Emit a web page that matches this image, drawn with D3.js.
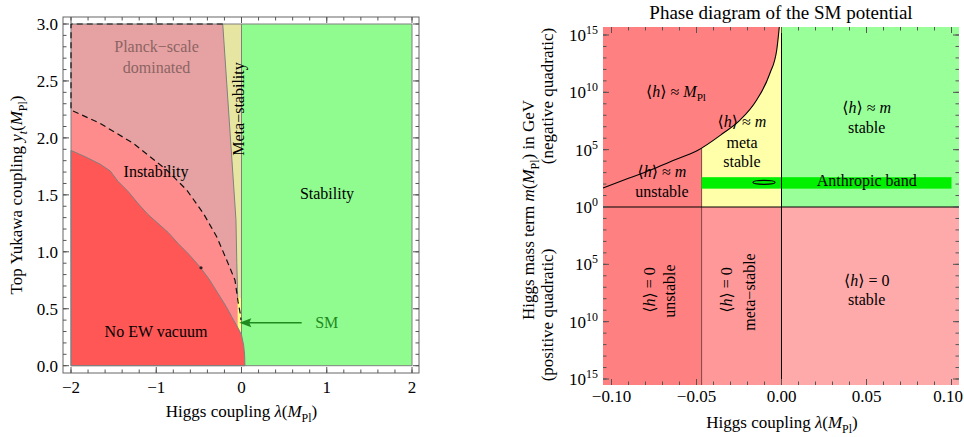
<!DOCTYPE html>
<html>
<head>
<meta charset="utf-8">
<script src="https://cdn.jsdelivr.net/npm/d3@7"></script>
<style>
  body { margin: 0; background: #fff; }
  svg text { font-family: "Liberation Serif", "DejaVu Serif", serif; }
</style>
</head>
<body>
<svg id="chart" width="964" height="437"></svg>
<script>
// ================= Left panel: (lambda, y_t) plane =================
// Lower edge of the "No EW vacuum" region
const noEwLam = [-2.00, -1.82, -1.66, -1.54, -1.45, -1.33, -1.22, -1.10, -0.98, -0.86, -0.74, -0.62, -0.49, -0.38, -0.28, -0.18, -0.10, -0.04, 0.00, 0.025, 0.037, 0.04];
const noEwYt  = [ 1.89,  1.83,  1.77,  1.71,  1.62,  1.53,  1.43,  1.33,  1.25,  1.17,  1.07,  0.98,  0.87,  0.76,  0.64,  0.52,  0.41,  0.33, 0.27, 0.18, 0.09, 0.00];
// Dashed edge of the Planck-scale dominated region
const planckLam = [-2.00, -1.66, -1.27, -0.877, -0.643, -0.448, -0.291, -0.174, -0.076, -0.04, -0.015, -0.006];
const planckYt  = [ 2.245, 2.128, 1.953, 1.718, 1.543, 1.338, 1.133, 0.928, 0.75, 0.56, 0.46, 0.40];
// Left edge of the meta-stability strip
const metaEdgeLam = [-0.22, -0.065, -0.055, -0.045];
const metaEdgeYt  = [ 3.00,  1.28,   0.90,   0.60];
// Lower end of the bright yellow sliver
const sliverYt = 0.2;
// SM point and its arrow
const smLam = -0.026, smYt = 0.377, smArrowFrom = 0.706, smLabelLam = 1.0;
const smDot = [-0.475, 0.86];
const leftXTicks = [-2, -1, 0, 1, 2];
const leftXTickLabels = ["\u22122", "\u22121", "0", "1", "2"];
const leftYTicks = [0, 0.5, 1, 1.5, 2, 2.5, 3];
const leftYTickLabels = ["0.0", "0.5", "1.0", "1.5", "2.0", "2.5", "3.0"];

// ================= Right panel: (lambda, m) plane =================
// Boundary between <h> ~ M_Pl and <h> ~ m, log10(m/GeV)
const curveLam = [-0.105, -0.09, -0.077, -0.063, -0.05, -0.0344, -0.0244, -0.0146, -0.0068, -0.0028, -0.0013];
const curveLog = [ 1.66,   2.5,   3.23,   4.1,    4.88,  6.43,    7.58,    9.33,    11.66,   13.69,   15.7];
const metaSplit = -0.047;
const bandLam = [-0.047, 0.1];
const bandLog = [1.6, 2.6];
const smEllipse = { lam: -0.0103, log: 2.15, dLam: 0.0065, dLog: 0.18 };
const rightXTicks = [-0.10, -0.05, 0.00, 0.05, 0.10];
const rightXTickLabels = ["\u22120.10", "\u22120.05", "0.00", "0.05", "0.10"];
const rightYTicks = [15, 10, 5, 0, -5, -10, -15];
const rightYTickExp = ["15", "10", "5", "0", "5", "10", "15"];

const C = {
  planck: "#e6a2a2", instab: "#ff8c8c", noEw: "#ff5656", khaki: "#e6e6a2",
  yellow: "#ffff80", greenL: "#90fc90",
  upRed: "#ff8080", upYellow: "#ffffaa", upGreen: "#99ff99",
  lowUnst: "#ff8080", lowMeta: "#ff9999", lowStable: "#ffaaaa",
  band: "#00f000", edge: "#808080", tick: "#555"
};
const FS = 16;      // region names
const FT = 17;      // ticks and axis titles
const W = 964;

const svg = d3.select("#chart");

// text helper with italics, sub- and superscripts
function rich(text, parts, size) {
  let off = 0;
  parts.forEach(p => {
    const ts = text.append("tspan").text(p.t);
    const target = p.sub ? size * 0.28 : p.sup ? -size * 0.42 : 0;
    if (target !== off) { ts.attr("dy", target - off); off = target; }
    if (p.sub || p.sup) ts.attr("font-size", size * 0.7);
    if (p.i) ts.attr("font-style", "italic");
  });
  return text;
}
function label(g, x, y, parts, opts = {}) {
  const size = opts.size || FS;
  const t = g.append("text")
    .attr("transform", `translate(${x},${y})` + (opts.rot ? " rotate(-90)" : ""))
    .attr("text-anchor", opts.anchor || "middle")
    .attr("font-size", size)
    .attr("fill", opts.fill || "#000");
  return rich(t, parts, size);
}
const H = [{ t: "\u27e8" }, { t: "h", i: 1 }, { t: "\u27e9" }];
const lamMPl = [{ t: "\u03bb", i: 1 }, { t: "(" }, { t: "M", i: 1 }, { t: "Pl", sub: 1 }, { t: ")" }];

// ---------------- left panel ----------------
const xL = d3.scaleLinear().domain([-2, 2]).range([71, 412]);
const yL = d3.scaleLinear().domain([0, 3]).range([365.7, 24]);
const frameL = { x0: 63, x1: 419, y0: 17, y1: 373 };
const gL = svg.append("g");
const lineL = d3.line().x(d => xL(d[0])).y(d => yL(d[1]));
const zip = (a, b) => a.map((v, i) => [v, b[i]]);

const noEw = zip(noEwLam, noEwYt);
const planck = zip(planckLam, planckYt);
const metaEdge = zip(metaEdgeLam, metaEdgeYt);

function rectL(l0, l1, y0, y1, fill) {
  gL.append("rect").attr("x", xL(l0)).attr("y", yL(y1))
    .attr("width", xL(l1) - xL(l0)).attr("height", yL(y0) - yL(y1)).attr("fill", fill);
}
rectL(-2, 0, 0, 3, C.instab);
// Planck-scale dominated
gL.append("path")
  .attr("d", lineL([[-2, 3], ...metaEdge, ...planck.slice().reverse()]) + "Z")
  .attr("fill", C.planck);
// meta-stability strip
gL.append("path")
  .attr("d", lineL([...metaEdge, [0, metaEdgeYt[metaEdgeYt.length - 1]], [0, 3]]) + "Z")
  .attr("fill", C.khaki);
rectL(metaEdgeLam[metaEdgeLam.length - 1], 0, sliverYt, metaEdgeYt[metaEdgeYt.length - 1], C.yellow);
rectL(0, 2, 0, 3, C.greenL);
// No EW vacuum
gL.append("path")
  .attr("d", lineL([[-2, 0], ...noEw]) + "Z")
  .attr("fill", C.noEw).attr("stroke", C.edge).attr("stroke-width", 1);
// region edges
gL.append("path").attr("d", lineL(metaEdge)).attr("fill", "none").attr("stroke", C.edge);
gL.append("path").attr("d", lineL([[0, 0.27], [0, 3]])).attr("fill", "none").attr("stroke", C.edge);
gL.append("rect").attr("x", xL(-2)).attr("y", yL(3)).attr("width", xL(2) - xL(-2))
  .attr("height", yL(0) - yL(3)).attr("fill", "none").attr("stroke", C.edge);
// dashed Planck boundary
gL.append("path")
  .attr("d", lineL([[metaEdgeLam[0], 3], [-2, 3], ...planck]))
  .attr("fill", "none").attr("stroke", "#111").attr("stroke-width", 1.2)
  .attr("stroke-dasharray", "6,4");
gL.append("circle").attr("cx", xL(smDot[0])).attr("cy", yL(smDot[1])).attr("r", 1.6).attr("fill", "#222");

// SM arrow
const smCol = "#1f8a1f";
gL.append("line").attr("x1", xL(smArrowFrom)).attr("x2", xL(smLam) + 8)
  .attr("y1", yL(smYt)).attr("y2", yL(smYt)).attr("stroke", smCol).attr("stroke-width", 1.4);
gL.append("path")
  .attr("d", `M${xL(smLam)},${yL(smYt)} l12,-4.5 l-2,4.5 l2,4.5 Z`).attr("fill", smCol);
label(gL, xL(smLabelLam), yL(smYt) + 5, [{ t: "SM" }], { fill: smCol });

// frame and ticks
gL.append("rect").attr("x", frameL.x0).attr("y", frameL.y0)
  .attr("width", frameL.x1 - frameL.x0).attr("height", frameL.y1 - frameL.y0)
  .attr("fill", "none").attr("stroke", "#666");
function ticksX(g, xs, x, yTop, yBot, len) {
  xs.forEach(v => {
    g.append("line").attr("x1", x(v)).attr("x2", x(v)).attr("y1", yBot).attr("y2", yBot - len).attr("stroke", C.tick);
    g.append("line").attr("x1", x(v)).attr("x2", x(v)).attr("y1", yTop).attr("y2", yTop + len).attr("stroke", C.tick);
  });
}
function ticksY(g, ys, y, xLeft, xRight, len) {
  ys.forEach(v => {
    g.append("line").attr("y1", y(v)).attr("y2", y(v)).attr("x1", xLeft).attr("x2", xLeft + len).attr("stroke", C.tick);
    g.append("line").attr("y1", y(v)).attr("y2", y(v)).attr("x1", xRight).attr("x2", xRight - len).attr("stroke", C.tick);
  });
}
ticksX(gL, d3.range(-2, 2.001, 0.2), xL, frameL.y0, frameL.y1, 3.5);
ticksX(gL, leftXTicks, xL, frameL.y0, frameL.y1, 6);
ticksY(gL, d3.range(0, 3.001, 0.1), yL, frameL.x0, frameL.x1, 3.5);
ticksY(gL, leftYTicks, yL, frameL.x0, frameL.x1, 6);
leftXTicks.forEach((v, i) => label(gL, xL(v), 393, [{ t: leftXTickLabels[i] }], { size: FT }));
leftYTicks.forEach((v, i) => label(gL, 58, yL(v) + 6, [{ t: leftYTickLabels[i] }], { anchor: "end", size: FT }));

// axis titles
label(gL, 241.5, 417, [{ t: "Higgs coupling " }, ...lamMPl], { size: FT });
label(gL, 22, 195, [{ t: "Top Yukawa coupling " }, { t: "y", i: 1 }, { t: "t", i: 1, sub: 1 }, { t: "(" }, { t: "M", i: 1 }, { t: "Pl", sub: 1 }, { t: ")" }], { rot: 1, size: FT });

// region names
label(gL, 156.5, 52, [{ t: "Planck\u2212scale" }], { fill: "#8c6464" });
label(gL, 156.5, 73, [{ t: "dominated" }], { fill: "#8c6464" });
label(gL, 156, 177, [{ t: "Instability" }]);
label(gL, 244, 109, [{ t: "Meta\u2212stability" }], { rot: 1 });
label(gL, 327, 199, [{ t: "Stability" }]);
label(gL, 156, 336.5, [{ t: "No EW vacuum" }]);

// ---------------- right panel ----------------
const xR = d3.scaleLinear().domain([-0.1, 0.1]).range([611.5, 951.5]);
const yR = d3.scaleLinear().domain([-15, 15]).range([379, 35]);
const frameR = { x0: 603, x1: 959, y0: 27, y1: 385 };
const lamMin = xR.invert(frameR.x0), lamMax = xR.invert(frameR.x1);
const logTop = yR.invert(frameR.y0), logBot = yR.invert(frameR.y1);
const gR = svg.append("g");

function rectR(l0, l1, s0, s1, fill) {
  gR.append("rect").attr("x", xR(l0)).attr("y", yR(s1))
    .attr("width", xR(l1) - xR(l0)).attr("height", yR(s0) - yR(s1)).attr("fill", fill);
}
// positive quadratic half
rectR(lamMin, metaSplit, logBot, 0, C.lowUnst);
rectR(metaSplit, 0, logBot, 0, C.lowMeta);
rectR(0, lamMax, logBot, 0, C.lowStable);
// negative quadratic half
rectR(lamMin, metaSplit, 0, logTop, C.upRed);
rectR(metaSplit, 0, 0, logTop, C.upYellow);
rectR(0, lamMax, 0, logTop, C.upGreen);
// stability split line
gR.append("line").attr("x1", xR(metaSplit)).attr("x2", xR(metaSplit))
  .attr("y1", frameR.y1).attr("y2", frameR.y0).attr("stroke", "#7a4646").attr("stroke-width", 1);
// <h> ~ M_Pl region above the curve
const curvePts = zip(curveLam, curveLog);
gR.append("path")
  .attr("d", d3.area().x(d => xR(d[0])).y0(frameR.y0).y1(d => yR(d[1])).curve(d3.curveMonotoneX)(curvePts))
  .attr("fill", C.upRed);
gR.append("path")
  .attr("d", d3.line().x(d => xR(d[0])).y(d => yR(d[1])).curve(d3.curveMonotoneX)(curvePts))
  .attr("fill", "none").attr("stroke", "#000").attr("stroke-width", 1.1);
// anthropic band
rectR(bandLam[0], bandLam[1], bandLog[0], bandLog[1], C.band);
gR.append("ellipse")
  .attr("cx", xR(smEllipse.lam)).attr("cy", yR(smEllipse.log))
  .attr("rx", xR(smEllipse.lam + smEllipse.dLam) - xR(smEllipse.lam))
  .attr("ry", yR(smEllipse.log) - yR(smEllipse.log + smEllipse.dLog))
  .attr("fill", "none").attr("stroke", "#000").attr("stroke-width", 1.2);
// axes at lambda = 0 and m = 0
gR.append("line").attr("x1", frameR.x0).attr("x2", frameR.x1).attr("y1", yR(0)).attr("y2", yR(0)).attr("stroke", "#000");
gR.append("line").attr("x1", xR(0)).attr("x2", xR(0)).attr("y1", frameR.y0).attr("y2", frameR.y1).attr("stroke", "#000");

// ticks
ticksX(gR, d3.range(-0.1, 0.1001, 0.01), xR, frameR.y0, frameR.y1, 3.5);
ticksX(gR, rightXTicks, xR, frameR.y0, frameR.y1, 6);
ticksY(gR, d3.range(-15, 15.001, 1), yR, frameR.x0, frameR.x1, 3.5);
ticksY(gR, rightYTicks, yR, frameR.x0, frameR.x1, 6);
rightXTicks.forEach((v, i) => {
  // the last label is kept inside the page edge
  const t = label(gR, xR(v), 402, [{ t: rightXTickLabels[i] }], { size: FT });
  const bb = t.node().getBBox();
  const over = xR(v) + bb.width / 2 - (W - 1);
  if (over > 0) t.attr("transform", `translate(${xR(v) - over},402)`);
});
rightYTicks.forEach((v, i) => label(gR, 598, yR(v) + 6, [{ t: "10" }, { t: rightYTickExp[i], sup: 1 }], { anchor: "end", size: FT }));

// titles
label(gR, 781, 19, [{ t: "Phase diagram of the SM potential" }], { size: 19 });
label(gR, 782, 428, [{ t: "Higgs coupling " }, ...lamMPl], { size: FT });
label(gR, 534, 210, [{ t: "Higgs mass term " }, { t: "m", i: 1 }, { t: "(" }, { t: "M", i: 1 }, { t: "Pl", sub: 1 }, { t: ")" }, { t: " in GeV" }], { rot: 1, size: FT });
label(gR, 553, 96, [{ t: "(negative quadratic)" }], { rot: 1, size: FT });
label(gR, 553, 315, [{ t: "(positive quadratic)" }], { rot: 1, size: FT });

// region names
label(gR, 676, 97, [...H, { t: " \u2248 " }, { t: "M", i: 1 }, { t: "Pl", sub: 1 }]);
label(gR, 742, 126.7, [...H, { t: " \u2248 " }, { t: "m", i: 1 }]);
label(gR, 742, 147.7, [{ t: "meta" }]);
label(gR, 742, 166.7, [{ t: "stable" }]);
label(gR, 662, 176.7, [...H, { t: " \u2248 " }, { t: "m", i: 1 }]);
label(gR, 662, 196.7, [{ t: "unstable" }]);
label(gR, 866.7, 113, [...H, { t: " \u2248 " }, { t: "m", i: 1 }]);
label(gR, 866.7, 133, [{ t: "stable" }]);
label(gR, 866.7, 185.5, [{ t: "Anthropic band" }]);
label(gR, 866.7, 286, [...H, { t: " = 0" }]);
label(gR, 866.7, 305, [{ t: "stable" }]);
label(gR, 655, 290, [...H, { t: " = 0" }], { rot: 1 });
label(gR, 675, 291, [{ t: "unstable" }], { rot: 1 });
label(gR, 732, 290, [...H, { t: " = 0" }], { rot: 1 });
label(gR, 755, 292, [{ t: "meta\u2212stable" }], { rot: 1 });
</script>
</body>
</html>
